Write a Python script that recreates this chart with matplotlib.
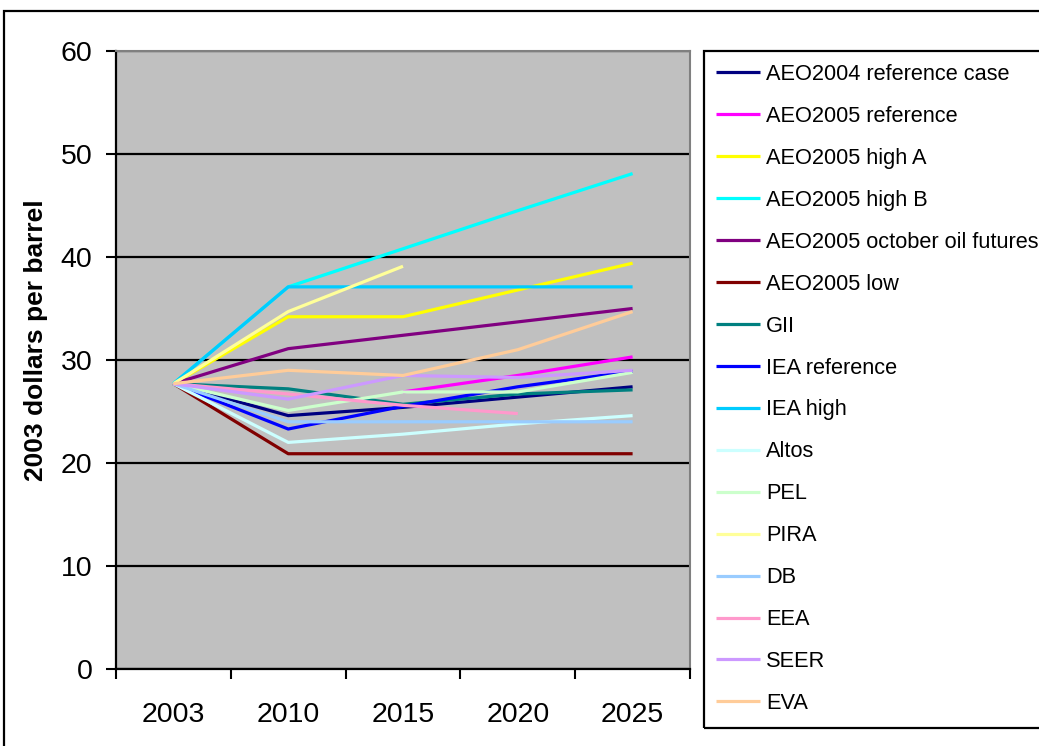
import numpy as np
import matplotlib
matplotlib.use("Agg")
import matplotlib.pyplot as plt
from matplotlib.patches import Rectangle

plt.rcParams['font.family'] = ['Liberation Sans', 'DejaVu Sans']

years = ["2003", "2010", "2015", "2020", "2025"]
nan = np.nan

series_names = [
    "AEO2004 reference case", "AEO2005 reference", "AEO2005 high A",
    "AEO2005 high B", "AEO2005 october oil futures", "AEO2005 low",
    "GII", "IEA reference", "IEA high", "Altos", "PEL", "PIRA",
    "DB", "EEA", "SEER", "EVA",
]
series_colors = [
    "#000080", "#FF00FF", "#FFFF00", "#00FFFF", "#800080", "#800000",
    "#008080", "#0000FF", "#00CCFF", "#CCFFFF", "#CCFFCC", "#FFFF99",
    "#99CCFF", "#FF99CC", "#CC99FF", "#FFCC99",
]

aeo2004_ref = [27.7, 24.6, 25.4, 26.4, 27.4]
aeo2005_ref = [nan, nan, 26.9, 28.5, 30.3]
aeo2005_high_a = [27.7, 34.2, 34.2, 36.8, 39.4]
aeo2005_high_b = [27.7, 37.1, 40.8, 44.5, 48.1]
aeo2005_futures = [27.7, 31.1, 32.4, 33.7, 35.0]
aeo2005_low = [27.7, 20.9, 20.9, 20.9, 20.9]
gii = [27.7, 27.2, 25.7, 26.7, 27.1]
iea_ref = [27.7, 23.3, 25.5, 27.4, 28.9]
iea_high = [27.7, 37.1, 37.1, 37.1, 37.1]
altos = [27.7, 22.0, 22.8, 23.8, 24.6]
pel = [27.7, 25.1, 26.9, 26.9, 28.8]
pira = [27.7, 34.7, 39.1, nan, nan]
db = [27.7, 24.0, 24.0, 24.0, 24.0]
eea = [27.7, 26.7, 25.6, 24.8, nan]
seer = [27.7, 26.2, 28.5, 28.3, 29.0]
eva = [27.7, 29.0, 28.5, 31.0, 34.7]

series_values = [
    aeo2004_ref, aeo2005_ref, aeo2005_high_a, aeo2005_high_b,
    aeo2005_futures, aeo2005_low, gii, iea_ref, iea_high, altos,
    pel, pira, db, eea, seer, eva,
]

W, H = 1039, 746
fig = plt.figure(figsize=(W / 100, H / 100), dpi=100)
fig.patch.set_facecolor("white")

ax = fig.add_axes([116 / W, (H - 669) / H, 574 / W, 618 / H])
ax.set_facecolor("#C0C0C0")

x = np.arange(len(years))
for name, vals, col in zip(series_names, series_values, series_colors):
    ax.plot(x, vals, color=col, lw=2.3, label=name,
            solid_joinstyle="round", solid_capstyle="butt")

ax.set_xlim(-0.5, len(years) - 0.5)
ax.set_ylim(0, 60)
ax.set_yticks(np.arange(0, 61, 10))
ax.set_xticks(x)
ax.set_xticklabels(years)
ax.set_xticks(np.arange(-0.5, len(years), 1.0), minor=True)

ax.tick_params(axis="x", which="major", length=0, labelsize=20.5, pad=24)
ax.tick_params(axis="x", which="minor", length=7, width=1.5, direction="out", color="black")
ax.tick_params(axis="y", which="major", length=7, width=1.5, direction="out",
               labelsize=20.5, pad=10, color="black")

ax.grid(axis="y", color="black", lw=1.6)
ax.set_axisbelow(True)

for side in ("top", "right"):
    ax.spines[side].set_color("#808080")
    ax.spines[side].set_linewidth(1.5)
for side in ("left", "bottom"):
    ax.spines[side].set_color("black")
    ax.spines[side].set_linewidth(1.6)

ax.set_ylabel("2003 dollars per barrel", fontsize=19, fontweight="bold")
ax.yaxis.set_label_coords(-0.118, 0.532)

# outer chart border and legend frame
fig.add_artist(Rectangle((4 / W, -0.05), 1.1, (H - 11) / H + 0.05,
                         transform=fig.transFigure, fill=False,
                         edgecolor="black", lw=1.6, clip_on=False))
fig.add_artist(Rectangle((704 / W, (H - 728) / H), 1.0, (728 - 51) / H,
                         transform=fig.transFigure, fill=False,
                         edgecolor="black", lw=1.6, clip_on=False))

fig.legend(loc="upper left", bbox_to_anchor=(716 / W, (H - 64) / H),
           frameon=False, fontsize=15.7, handlelength=2.0, handletextpad=0.3,
           labelspacing=0.96, borderaxespad=0, borderpad=0)

fig.savefig("out.png", dpi=100)
